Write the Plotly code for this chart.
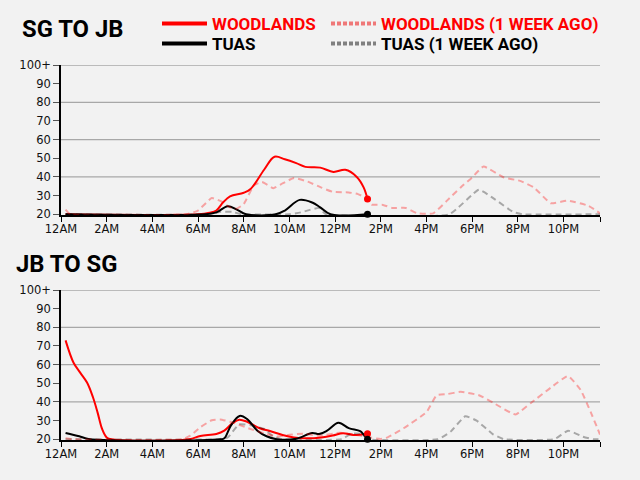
import plotly.graph_objects as go

# ---------------- data (hours since midnight, value) ----------------
# SG TO JB
sg_wood_h = [0.2, 6.0, 6.5, 6.8, 7.1, 7.4, 8.0, 8.3, 8.9, 9.35, 9.8, 10.3, 10.7, 11.35, 11.93, 12.45, 12.95, 13.25, 13.42]
sg_wood_v = [20, 20, 20.8, 22, 26.4, 29.6, 31.5, 33.5, 44, 50.8, 49.5, 47.4, 45.4, 45, 42.7, 43.8, 40, 34.4, 28.2]
sg_tuas_h = [0.2, 6.3, 6.8, 7.3, 7.7, 8.1, 9.4, 9.8, 10.45, 11.0, 11.35, 11.8, 13.42]
sg_tuas_v = [20, 20, 21, 24.3, 22.5, 20, 20, 22, 27.7, 26.3, 23.7, 20, 20]
sg_wood_wk_h = [0.2, 0.4, 5.5, 6.0, 6.6, 7.0, 7.4, 7.7, 8.0, 8.45, 8.8, 9.3, 9.7, 10.2, 10.8, 11.4, 11.9, 12.6, 13.0, 13.4, 13.6, 14.1, 14.5, 15.1, 15.6, 16.3, 16.9, 17.5, 18.0, 18.5, 19.4, 20.1, 20.7, 21.45, 22.2, 23.1, 23.6]
sg_wood_wk_v = [22.5, 20, 20, 22, 28.7, 27, 23.7, 23, 25.5, 35.5, 37.3, 34, 36.5, 39.4, 37.5, 34.3, 32, 31.7, 30.8, 28.5, 25.2, 25, 23.4, 23.4, 20.5, 20.5, 27.3, 34.4, 39.7, 45.6, 39.7, 37.9, 34.4, 25.9, 27.3, 24.5, 20.5]
sg_tuas_wk_h = [0.2, 6.5, 7.0, 7.5, 7.9, 10.0, 10.5, 11.3, 11.6, 17.0, 18.3, 19.0, 19.8, 20.2, 23.6]
sg_tuas_wk_v = [20, 20, 21.3, 21.3, 20, 20, 21, 23.4, 20, 20, 33.1, 28, 21.2, 20, 20]

# JB TO SG
jb_wood_h = [0.2, 0.55, 0.84, 1.14, 1.4, 1.6, 1.8, 2.0, 2.2, 5.6, 6.1, 6.8, 7.15, 7.5, 7.8, 8.15, 8.7, 9.15, 9.7, 10.2, 10.8, 11.4, 11.9, 12.35, 12.8, 13.42]
jb_wood_v = [73, 61, 55.7, 50.4, 42.5, 34.4, 25.5, 21, 20, 20, 21.8, 22.8, 24.6, 28.5, 30.5, 29.4, 25.9, 24.4, 22.3, 21, 20.5, 21, 22, 23.2, 22.3, 23]
jb_tuas_h = [0.2, 0.8, 1.2, 7.0, 7.15, 7.45, 7.82, 8.15, 8.6, 9.0, 9.45, 10.3, 11.0, 11.3, 11.65, 12.15, 12.6, 13.1, 13.25, 13.42]
jb_tuas_v = [23.4, 21.6, 20.2, 20, 20.5, 27.6, 32.5, 30.8, 24.6, 21.6, 20, 20.3, 23.4, 22.8, 24.6, 28.8, 26, 24.3, 22.5, 20]
jb_wood_wk_h = [0.2, 0.5, 5.3, 5.66, 6.1, 6.6, 6.97, 7.4, 8.3, 9.0, 9.45, 10.0, 10.6, 11.35, 12.2, 13.1, 13.5, 14.0, 14.3, 15.0, 16.0, 16.45, 16.9, 17.5, 18.3, 19.0, 19.9, 20.6, 21.45, 22.2, 22.75, 23.2, 23.6]
jb_wood_wk_v = [20.5, 20, 20, 21.9, 26.4, 30.2, 30.6, 29.4, 25.5, 22.8, 21.5, 22.4, 23, 21.9, 23.5, 22, 21, 20.2, 21, 25.9, 34.5, 43.6, 44.2, 45.4, 43.6, 39, 33.3, 39.7, 47.7, 53.9, 46.5, 34.4, 22.5]
jb_tuas_wk_h = [0.2, 6.9, 7.3, 7.8, 8.3, 8.9, 9.3, 9.7, 12.3, 12.7, 13.1, 13.5, 16.5, 17.05, 17.7, 18.2, 18.9, 19.4, 21.6, 22.2, 22.85, 23.3, 23.6]
jb_tuas_wk_v = [20, 20, 21, 28, 27.5, 25.5, 21.5, 20, 20, 23, 23, 20, 20, 24, 32.3, 30, 22.8, 20, 20, 24.6, 21.4, 20, 20]

x_tickvals = [0, 2, 4, 6, 8, 10, 12, 14, 16, 18, 20, 22, 23.6]
x_ticktext = ["12AM", "2AM", "4AM", "6AM", "8AM", "10AM", "12PM", "2PM", "4PM", "6PM", "8PM", "10PM", ""]
y_tickvals = [20, 30, 40, 50, 60, 70, 80, 90, 100]
y_ticktext = ["20", "30", "40", "50", "60", "70", "80", "90", "100+"]
grid_vals = [40, 60, 80, 100]

legend_names = ["WOODLANDS", "TUAS", "WOODLANDS (1 WEEK AGO)", "TUAS (1 WEEK AGO)"]

# ---------------- styles ----------------
RED = "#ff0000"
BLACK = "#000000"
RED_WK = "rgba(255,0,0,0.33)"
GRAY_WK = "rgba(0,0,0,0.31)"
RED_WK_LEG = "#ef7878"
GRAY_WK_LEG = "#808080"

fig = go.Figure()

def add_panel(xa, ya, wood_wk, tuas_wk, tuas, wood):
    fig.add_trace(go.Scatter(x=wood[0], y=wood[1], mode="lines", xaxis=xa, yaxis=ya,
                             line=dict(color=RED, width=2, shape="spline", smoothing=1),
                             showlegend=False, hoverinfo="skip"))
    fig.add_trace(go.Scatter(x=tuas[0], y=tuas[1], mode="lines", xaxis=xa, yaxis=ya,
                             line=dict(color=BLACK, width=2, shape="spline", smoothing=1),
                             showlegend=False, hoverinfo="skip"))
    fig.add_trace(go.Scatter(x=tuas_wk[0], y=tuas_wk[1], mode="lines", xaxis=xa, yaxis=ya,
                             line=dict(color=GRAY_WK, width=2, dash="6px,4px", shape="spline", smoothing=0.4),
                             showlegend=False, hoverinfo="skip"))
    fig.add_trace(go.Scatter(x=wood_wk[0], y=wood_wk[1], mode="lines", xaxis=xa, yaxis=ya,
                             line=dict(color=RED_WK, width=2, dash="6px,4px", shape="spline", smoothing=0.4),
                             showlegend=False, hoverinfo="skip"))
    fig.add_trace(go.Scatter(x=[wood[0][-1]], y=[wood[1][-1]], mode="markers", xaxis=xa, yaxis=ya,
                             marker=dict(color=RED, size=7), cliponaxis=False,
                             showlegend=False, hoverinfo="skip"))
    fig.add_trace(go.Scatter(x=[tuas[0][-1]], y=[tuas[1][-1]], mode="markers", xaxis=xa, yaxis=ya,
                             marker=dict(color=BLACK, size=7), cliponaxis=False,
                             showlegend=False, hoverinfo="skip"))

add_panel("x", "y", (sg_wood_wk_h, sg_wood_wk_v), (sg_tuas_wk_h, sg_tuas_wk_v),
          (sg_tuas_h, sg_tuas_v), (sg_wood_h, sg_wood_v))
add_panel("x2", "y2", (jb_wood_wk_h, jb_wood_wk_v), (jb_tuas_wk_h, jb_tuas_wk_v),
          (jb_tuas_h, jb_tuas_v), (jb_wood_h, jb_wood_v))

# legend entries (one legend per entry for exact placement)
leg_specs = [
    (legend_names[0], RED, RED, None, "legend"),
    (legend_names[1], BLACK, BLACK, None, "legend2"),
    (legend_names[2], RED_WK_LEG, RED, "4px,2px", "legend3"),
    (legend_names[3], GRAY_WK_LEG, BLACK, "4px,2px", "legend4"),
]
for name, lc, tc, dash, lg in leg_specs:
    ln = dict(color=lc, width=4)
    if dash:
        ln["dash"] = dash
    fig.add_trace(go.Scatter(x=[None], y=[None], mode="lines",
                             name='<span style="color:%s">%s</span>' % (tc, name),
                             line=ln, legend=lg))

tickfont = dict(family="DejaVu Sans", size=11.5, color="#111111")
xcommon = dict(range=[0, 23.6], tickvals=x_tickvals, ticktext=x_ticktext, showgrid=False, zeroline=False,
               showline=True, linecolor=BLACK, linewidth=1.5, ticks="outside", ticklen=5, tickcolor=BLACK,
               tickwidth=1.2, tickfont=tickfont, fixedrange=True, ticklabelstandoff=-3)
ycommon = dict(range=[19.6, 100], tickvals=y_tickvals, ticktext=y_ticktext, showgrid=False, zeroline=False,
               showline=True, linecolor=BLACK, linewidth=1.5, ticks="outside", ticklen=6, tickcolor="#555555",
               tickwidth=1.2, tickfont=tickfont, fixedrange=True)

shapes = []
for yref, xref in (("y", "x domain"), ("y2", "x2 domain")):
    for g in grid_vals:
        shapes.append(dict(type="line", xref=xref, yref=yref, x0=0, x1=1, y0=g, y1=g,
                           line=dict(color="#a8a8a8", width=1.3), layer="below"))

L, R, T, B = 61, 40, 65, 40
PW = 640 - L - R
PH = 480 - T - B

def px_to_paper_x(px):
    return (px - L) / PW

def px_to_paper_y(py):
    return (480 - B - py) / PH

titlefont = dict(family="Roboto", size=23.8, color=BLACK, weight="bold")
legfont = dict(family="Roboto", size=17, weight="bold")

def leg(xpx, ypx):
    return dict(x=px_to_paper_x(xpx), y=px_to_paper_y(ypx), xanchor="left", yanchor="middle",
                bgcolor="rgba(0,0,0,0)", itemwidth=45, font=legfont,
                itemclick=False, itemdoubleclick=False)

fig.update_layout(
    width=640, height=480,
    margin=dict(l=L, r=R, t=T, b=B, pad=0, autoexpand=False),
    paper_bgcolor="#f2f2f2", plot_bgcolor="#f2f2f2",
    xaxis=dict(domain=[0, 1], anchor="y", **xcommon),
    yaxis=dict(domain=[0.6, 1], anchor="x", **ycommon),
    xaxis2=dict(domain=[0, 1], anchor="y2", **xcommon),
    yaxis2=dict(domain=[0, 0.4], anchor="x2", **ycommon),
    shapes=shapes,
    annotations=[
        dict(text="SG TO JB", xref="paper", yref="paper", x=px_to_paper_x(20), y=px_to_paper_y(29),
             xanchor="left", yanchor="middle", showarrow=False, font=titlefont),
        dict(text="JB TO SG", xref="paper", yref="paper", x=px_to_paper_x(13.5), y=px_to_paper_y(263.5),
             xanchor="left", yanchor="middle", showarrow=False, font=titlefont),
    ],
    legend=leg(157, 24),
    legend2=leg(157, 44),
    legend3=leg(326, 24),
    legend4=leg(326, 44),
)

fig.write_html("out.html", config={"displayModeBar": False})

with open("out.html", "r", encoding="utf-8") as f:
    html = f.read()
html = html.replace("<body>", '<body style="margin:0;padding:0;overflow:hidden;background:#f2f2f2">', 1)
with open("out.html", "w", encoding="utf-8") as f:
    f.write(html)
